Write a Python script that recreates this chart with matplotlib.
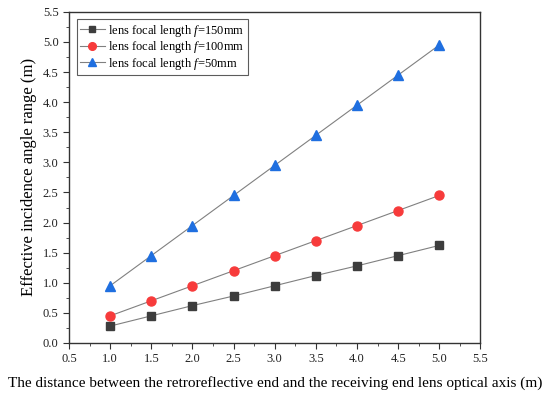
import numpy as np
import matplotlib
matplotlib.use('Agg')
import matplotlib.pyplot as plt
from matplotlib.ticker import MultipleLocator

plt.rcParams['font.family'] = ['Liberation Serif', 'DejaVu Serif']
plt.rcParams['mathtext.fontset'] = 'custom'
plt.rcParams['mathtext.rm'] = 'Liberation Serif'
plt.rcParams['mathtext.it'] = 'Liberation Serif:italic'

x = [1.0, 1.5, 2.0, 2.5, 3.0, 3.5, 4.0, 4.5, 5.0]
y_150 = [0.28, 0.45, 0.62, 0.78, 0.95, 1.12, 1.28, 1.45, 1.62]
y_100 = [0.45, 0.70, 0.95, 1.20, 1.45, 1.70, 1.95, 2.20, 2.45]
y_50 = [0.95, 1.45, 1.95, 2.45, 2.95, 3.45, 3.95, 4.45, 4.95]
labels = ['lens focal length $\\it{f}$=150mm',
          'lens focal length $\\it{f}$=100mm',
          'lens focal length $\\it{f}$=50mm']

fig = plt.figure(figsize=(5.5, 3.96), dpi=100)
ax = fig.add_axes([0.1255, 0.134, 0.748, 0.836])

ax.plot(x, y_150, color='#808080', lw=0.8, marker='s', ms=5.5,
        mfc='#3d3d3d', mec='#3d3d3d', label=labels[0])
ax.plot(x, y_100, color='#808080', lw=0.8, marker='o', ms=6.5,
        mfc='#f73b3b', mec='#f73b3b', label=labels[1])
ax.plot(x, y_50, color='#808080', lw=0.8, marker='^', ms=7,
        mfc='#1f6fe0', mec='#1f6fe0', label=labels[2])

ax.set_xlim(0.5, 5.5)
ax.set_ylim(0.0, 5.5)
ax.xaxis.set_major_locator(MultipleLocator(0.5))
ax.xaxis.set_minor_locator(MultipleLocator(0.25))
ax.yaxis.set_major_locator(MultipleLocator(0.5))
ax.yaxis.set_minor_locator(MultipleLocator(0.25))
ax.xaxis.set_major_formatter(plt.FormatStrFormatter('%.1f'))
ax.yaxis.set_major_formatter(plt.FormatStrFormatter('%.1f'))
ax.tick_params(which='both', direction='out', top=False, right=False,
               labelsize=9, color='#333333', labelcolor='#222222')
ax.tick_params(which='major', length=4)
ax.tick_params(which='minor', length=2.5)
for s in ax.spines.values():
    s.set_color('#333333')
    s.set_linewidth(1.0)

ax.set_xlabel('The distance between the retroreflective end and the receiving end lens optical axis (m)',
              fontsize=11, labelpad=8)
ax.set_ylabel('Effective incidence angle range (m)', fontsize=12)

leg = ax.legend(loc='upper left', fontsize=9, frameon=True, fancybox=False,
                edgecolor='#333333', borderaxespad=0.6, handlelength=2.0,
                handletextpad=0.3, labelspacing=0.05, borderpad=0.25,
                markerscale=0.85)
leg.get_frame().set_linewidth(0.8)

fig.savefig('out.png', dpi=100)
